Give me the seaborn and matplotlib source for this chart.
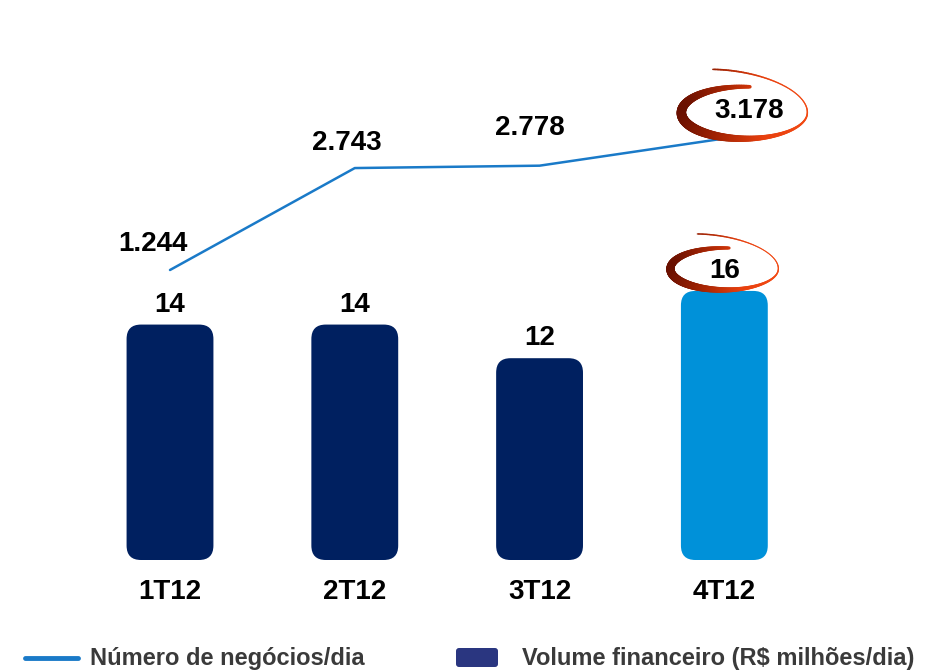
import numpy as np
import pandas as pd
import seaborn as sns
import matplotlib.pyplot as plt
from matplotlib.patches import FancyBboxPatch
from matplotlib.lines import Line2D
from matplotlib.collections import LineCollection
import matplotlib.colors as mcolors

quarters = ["1T12", "2T12", "3T12", "4T12"]
volume = [14, 14, 12, 16]
negocios = [1244, 2743, 2778, 3178]
negocios_labels = ["1.244", "2.743", "2.778", "3.178"]
bar_colors = ["#002060", "#002060", "#002060", "#0091d9"]

sns.set_theme(style="white")
plt.rcParams["font.family"] = ["Liberation Sans", "DejaVu Sans"]

fig = plt.figure(figsize=(9.35, 6.71), dpi=100)
ax = fig.add_axes([0, 111 / 671, 1, 560 / 671])
df = pd.DataFrame({"q": quarters, "v": volume})
sns.barplot(data=df, x="q", y="v", hue="q", palette=bar_colors, legend=False,
            width=0.47, ax=ax, saturation=1)
ax.set_xlim(-0.92, 4.14)
ax.set_ylim(0, 33.3)

# rounded bars
px_x = 935 / (4.14 + 0.92)
px_y = 560 / 33.3
for p in list(ax.patches):
    x, w, h = p.get_x(), p.get_width(), p.get_height()
    c = p.get_facecolor()
    p.remove()
    r = 0.06
    fb = FancyBboxPatch((x + r, r * px_x / px_y), w - 2 * r, h - 2 * r * px_x / px_y,
                        boxstyle=f"round,pad={r},rounding_size={r * 1.3}",
                        mutation_aspect=px_x / px_y, fc=c, ec="none")
    ax.add_patch(fb)

for i, v in enumerate(volume):
    ax.annotate(str(v), (i, v), xytext=(0, 5), textcoords="offset points",
                ha="center", va="bottom", fontsize=20, fontweight="bold", color="black")

ax2 = ax.twinx()
sns.lineplot(x=list(range(4)), y=negocios, ax=ax2, color="#1a7ac8", linewidth=1.8)
ax2.set_ylim(-3020, 5214)
offsets = [(-12, 19), (-6, 18), (-7, 27), (18, 20)]
for i, (v, lab) in enumerate(zip(negocios, negocios_labels)):
    ax2.annotate(lab, (i, v), xytext=offsets[i], textcoords="offset points",
                 ha="center", va="center", fontsize=20, fontweight="bold", color="black")

for a in (ax, ax2):
    a.set_xlabel("")
    a.set_ylabel("")
    a.set_yticks([])
    for s in a.spines.values():
        s.set_visible(False)
ax.set_xticks(range(4))
ax.set_xticklabels(quarters, fontsize=20, fontweight="bold", color="black")
ax.tick_params(axis="x", length=0, pad=14)


def swoosh(cx, cy, w, h, lw_max):
    # hand-drawn looking ring in display pixels (origin bottom-left)
    t = np.linspace(np.deg2rad(85), np.deg2rad(480), 260)
    rise = np.clip((t - np.deg2rad(350)) / np.deg2rad(130), 0, 1)
    xs = cx + w / 2 * np.cos(t)
    ys = cy + h / 2 * np.sin(t) + rise ** 1.5 * h * 0.4
    pts = np.array([xs, ys]).T.reshape(-1, 1, 2)
    segs = np.concatenate([pts[:-1], pts[1:]], axis=1)
    tm = t[:-1]
    widths = lw_max * (0.15 + 0.85 * (0.5 + 0.5 * np.cos(tm - np.deg2rad(195))) ** 1.2)
    widths *= 1 - 0.75 * rise[:-1]
    cmap = mcolors.LinearSegmentedColormap.from_list("sw", ["#6a1000", "#a82604", "#e8400e", "#f24a14"])
    lc = LineCollection(segs, linewidths=widths, colors=cmap((1 + np.cos(tm)) / 2),
                        transform=None, capstyle="round")
    fig.add_artist(lc)


# rings around the 4T12 labels
px = ax2.transData.transform((3, negocios[3]))
swoosh(px[0] + offsets[3][0] / 0.72 - 5, px[1] + offsets[3][1] / 0.72 - 2, 126, 52, 7)
pb = ax.transData.transform((3, volume[3]))
swoosh(pb[0], pb[1] + 22, 108, 42, 6)

# legend drawn by hand at the bottom
fig.add_artist(Line2D([25, 78], [13, 13], transform=None, color="#1a7ac8", lw=3.5))
fig.text(90, 13, "Número de negócios/dia", transform=None, fontsize=17,
         fontweight="bold", color="#3a3a3a", va="center", ha="left")
fig.add_artist(FancyBboxPatch((457, 5), 40, 17, boxstyle="round,pad=1,rounding_size=3",
                              transform=None, fc="#2a3680", ec="none"))
fig.text(522, 13, "Volume financeiro (R$ milhões/dia)", transform=None, fontsize=17,
         fontweight="bold", color="#3a3a3a", va="center", ha="left")

fig.savefig("out.png", dpi=100)
